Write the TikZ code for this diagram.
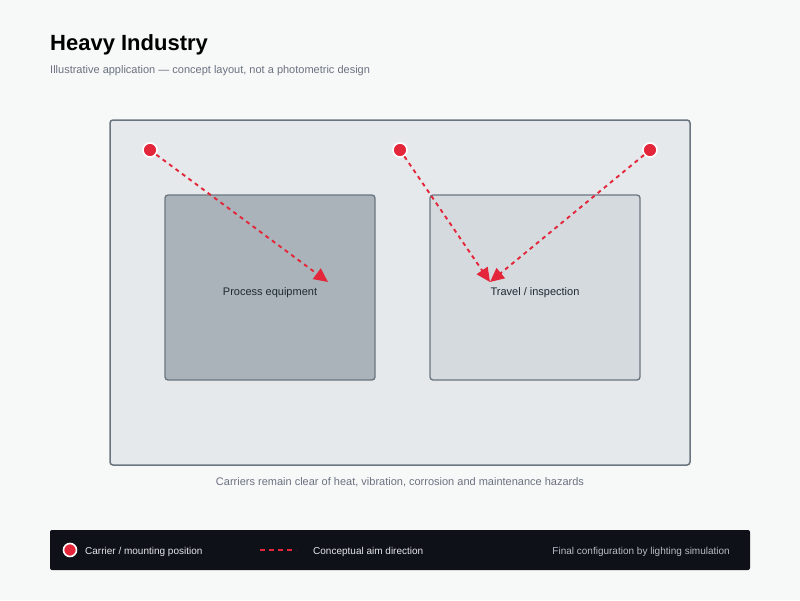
\documentclass[tikz,border=0pt]{standalone}
\usepackage{fontspec}
\setmainfont{Liberation Sans}
\usetikzlibrary{arrows.meta}

\definecolor{pagebg}{HTML}{F7F8F8}
\definecolor{framefill}{HTML}{E6E9EC}
\definecolor{framedraw}{HTML}{6B7580}
\definecolor{procfill}{HTML}{A9B3B9}
\definecolor{travfill}{HTML}{D5DADE}
\definecolor{aimred}{HTML}{E3263A}
\definecolor{subgrey}{HTML}{6B7280}
\definecolor{inktext}{HTML}{1F2933}
\definecolor{legendbg}{HTML}{0E1117}
\definecolor{legendtext}{HTML}{E5E7EB}
\definecolor{legendnote}{HTML}{B8BCC4}

\begin{document}
\begin{tikzpicture}
[
    x = 1pt, y = -1pt,
    area/.style = {draw = framedraw, line width = 1.5pt, rounded corners = 3pt},
    zone/.style = {area, line width = 1.3pt, minimum width = 210pt, minimum height = 185pt},
    zonelabel/.style = {anchor = base, font = \fontsize{11}{13}\selectfont, text = inktext},
    carrier/.style = {circle, fill = aimred, draw = white, line width = 1.6pt,
                      minimum size = 14pt, inner sep = 0},
    aim/.style = {aimred, line width = 1.9pt, dash pattern = on 4pt off 4pt,
                  -{Triangle[length = 14pt, width = 13pt]}},
    every node/.append style = {inner sep = 0}]

\useasboundingbox[fill = pagebg] (0,0) rectangle (800,600);

% heading
\node[anchor = base west, font = \fontsize{22}{26}\selectfont\bfseries, text = black] (title) at (50,50) {Heavy Industry};
\node[anchor = base west, font = \fontsize{11}{13}\selectfont, text = subgrey] (subtitle) at (50,73) {Illustrative application — concept layout, not a photometric design};

% plan
\draw[area, fill = framefill] (110,120) rectangle (690,465);
\node[zone, fill = procfill] (process) at (270,287.5) {};
\node[zone, fill = travfill] (travel) at (535,287.5) {};
\node[zonelabel] (processtext) at (270,295) {Process equipment};
\node[zonelabel] (traveltext) at (535,295) {Travel / inspection};

\coordinate (aim1) at (328,282);
\coordinate (aim2) at (490,282);

\node[carrier] (c1) at (150,150) {};
\node[carrier] (c2) at (400,150) {};
\node[carrier] (c3) at (650,150) {};

\draw[aim] (c1) -- (aim1);
\draw[aim] (c2) -- (aim2);
\draw[aim] (c3) -- (aim2);

\node[anchor = base, font = \fontsize{11}{13}\selectfont, text = subgrey] (caption) at (400,485) {Carriers remain clear of heat, vibration, corrosion and maintenance hazards};

% legend
\fill[legendbg, rounded corners = 2pt] (50,530) rectangle (750,570);
\node[carrier, minimum size = 13pt] (keydot) at (70,550) {};
\node[anchor = base west, font = \fontsize{10}{12}\selectfont, text = legendtext] (keydottext) at (85,554) {Carrier / mounting position};
\coordinate (dashA) at (260,550);
\coordinate (dashB) at (296,550);
\draw[aimred, line width = 1.6pt, dash pattern = on 5pt off 4pt] (dashA) -- (dashB);
\node[anchor = base west, font = \fontsize{10}{12}\selectfont, text = legendtext] (keydashtext) at (313,554) {Conceptual aim direction};
\node[anchor = base east, font = \fontsize{10}{12}\selectfont, text = legendnote] (keynote) at (730,554) {Final configuration by lighting simulation};

\end{tikzpicture}
\end{document}
